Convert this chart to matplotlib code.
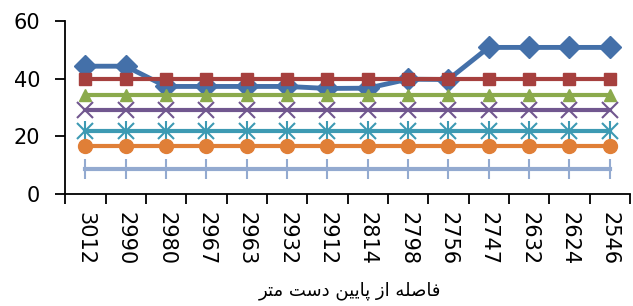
import numpy as np
import matplotlib
matplotlib.use("Agg")
import matplotlib.pyplot as plt

# distances (tick labels along x)
distances = ["3012", "2990", "2980", "2967", "2963", "2932", "2912",
             "2814", "2798", "2756", "2747", "2632", "2624", "2546"]

# series values
s_blue = [44.3, 44.3, 37.3, 37.3, 37.3, 37.3, 36.6, 36.7, 39.8, 39.7, 50.8, 50.8, 50.8, 50.8]
s_red = [39.8] * 14
s_green = [34.4] * 14
s_purple = [29.0] * 14
s_teal = [21.8] * 14
s_orange = [16.6] * 14
s_light = [8.9] * 14

yticks = [0, 20, 40, 60]

# persian axis title, shaped by hand (presentation forms, visual order)
title_logical = ("\uFED3\uFE8E\uFEBB\uFEE0\uFEEA" + " " +
                 "\uFE8D\uFEAF" + " " +
                 "\uFB58\uFE8E\uFBFE\uFBFF\uFEE6" + " " +
                 "\uFEA9\uFEB3\uFE96" + " " +
                 "\uFEE3\uFE98\uFEAE")
xlabel_text = title_logical[::-1]

x = np.arange(len(distances))

fig = plt.figure(figsize=(6.33, 3.06), dpi=100)
ax = fig.add_axes([0.103, 0.365, 0.892, 0.567])

ax.plot(x, s_blue, color="#4470A9", lw=3.5, marker="D", ms=11, zorder=3)
ax.plot(x, s_red, color="#A6403E", lw=3, marker="s", ms=8.5, zorder=4)
ax.plot(x, s_green, color="#8BAA4C", lw=3, marker="^", ms=9, zorder=3)
ax.plot(x, s_purple, color="#71578F", lw=3, marker="x", ms=11, mew=1.5, zorder=3)
ax.plot(x, s_teal, color="#3D9AB3", lw=3, marker="x", ms=11, mew=1.5, zorder=3)
ax.plot(x, s_teal, color="#3D9AB3", lw=0, marker="|", ms=14, mew=1.5, zorder=3)
ax.plot(x, s_orange, color="#E07F37", lw=3, marker="o", ms=10, zorder=3)
ax.plot(x, s_light, color="#93AAD0", lw=3, marker="|", ms=14, mew=1.5, zorder=3)

ax.set_xlim(-0.5, len(distances) - 0.5)
ax.set_ylim(0, 60)
ax.set_yticks(yticks)
ax.set_yticklabels([str(v) for v in yticks], fontsize=15, family="DejaVu Sans")
ax.set_xticks(x)
ax.set_xticklabels(distances, rotation=-90, fontsize=15, family="DejaVu Sans", va="top")
ax.set_xticks(np.arange(-0.5, len(distances), 1), minor=True)
ax.tick_params(axis="x", which="major", length=0, pad=13)
ax.tick_params(axis="x", which="minor", length=7, width=1.3, direction="out")
ax.tick_params(axis="y", length=7, width=1.3, direction="out", pad=11)

for side in ["top", "right"]:
    ax.spines[side].set_visible(False)
for side in ["left", "bottom"]:
    ax.spines[side].set_linewidth(1.3)
    ax.spines[side].set_color("black")

fig.text(350 / 633, 1 - 291 / 306, xlabel_text, ha="center", va="center",
         fontsize=13, family=["DejaVu Sans"])

fig.savefig("out.png", dpi=100)
